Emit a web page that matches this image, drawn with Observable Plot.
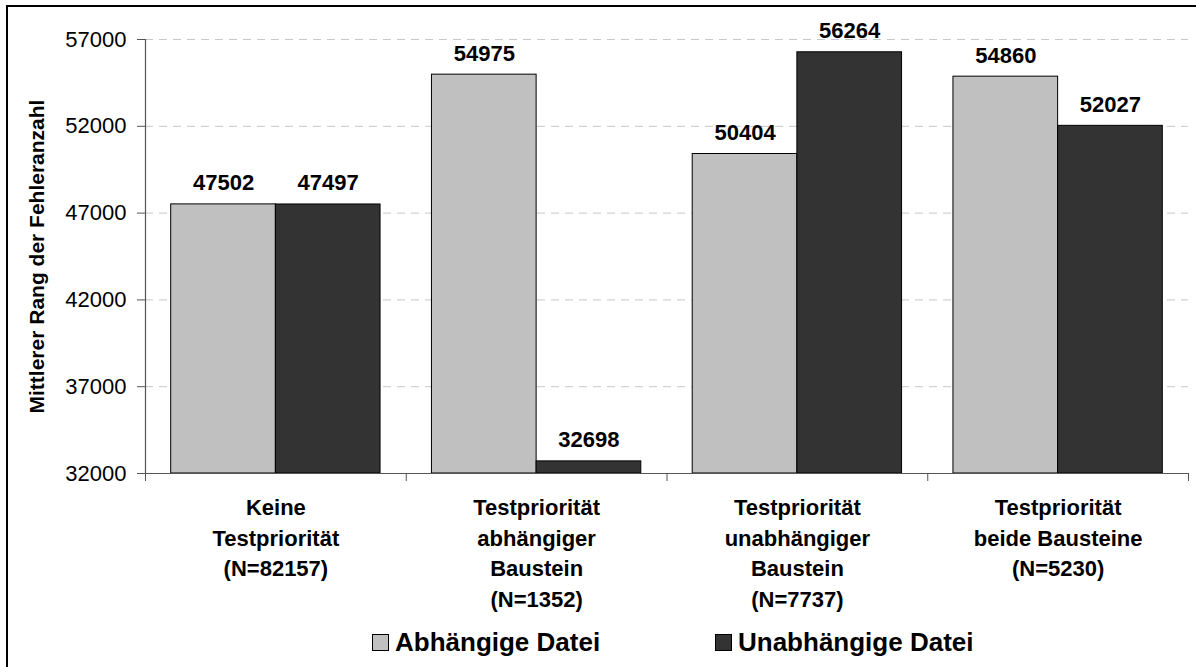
<!DOCTYPE html>
<html>
<head>
<meta charset="utf-8">
<script src="https://cdn.jsdelivr.net/npm/d3@7"></script>
<script src="https://cdn.jsdelivr.net/npm/@observablehq/plot@0.6"></script>
<style>
  html, body { margin: 0; padding: 0; background: #fff; width: 1196px; height: 667px; overflow: hidden; }
  body { position: relative; font-family: "Liberation Sans", Arial, sans-serif; }
  #chart { position: absolute; left: 0; top: 0; }
  #frame { position: absolute; left: 6px; top: 5px; width: 1220px; height: 720px; border: 2px solid #000; box-sizing: border-box; pointer-events: none; }
  #legend { position: absolute; left: 0; top: 622px; width: 1196px; height: 40px; font-weight: bold; font-size: 26px; color: #000; }
  #legend .item { position: absolute; top: 0; display: flex; align-items: center; height: 40px; white-space: nowrap; }
  #legend .sw { width: 17px; height: 17px; border: 1px solid #000; margin-right: 6px; box-sizing: border-box; }
</style>
</head>
<body>
<div id="chart"></div>
<div id="legend"></div>
<div id="frame"></div>
<script>
// ---- data ----
const categories = [
  "Keine\nTestpriorität\n(N=82157)",
  "Testpriorität\nabhängiger\nBaustein\n(N=1352)",
  "Testpriorität\nunabhängiger\nBaustein\n(N=7737)",
  "Testpriorität\nbeide Bausteine\n(N=5230)"
];
const seriesNames = ["Abhängige Datei", "Unabhängige Datei"];
const abhaengigeDatei = [47502, 54975, 50404, 54860];
const unabhaengigeDatei = [47497, 32698, 56264, 52027];
const yTicks = [32000, 37000, 42000, 47000, 52000, 57000];
const yTitle = ["Mittlerer Rang der Fehleranzahl"];
const seriesColors = ["#c0c0c0", "#333333"];

// ---- build table ----
const rows = [];
categories.forEach((c, i) => {
  rows.push({cat: i, s: 0, value: abhaengigeDatei[i]});
  rows.push({cat: i, s: 1, value: unabhaengigeDatei[i]});
});
const r0 = rows.filter(d => d.s === 0);
const r1 = rows.filter(d => d.s === 1);
const catLabels = categories.map((c, i) => ({cat: i, label: c}));

const inset = 25.7;
const yMin = yTicks[0];

const chart = Plot.plot({
  width: 1196,
  height: 625,
  marginLeft: 145,
  marginRight: 8,
  marginTop: 39,
  marginBottom: 152,
  style: {fontFamily: '"Liberation Sans", Arial, sans-serif', background: "transparent"},
  x: {domain: [0, categories.length], axis: null},
  y: {domain: [yTicks[0], yTicks[yTicks.length - 1]], axis: null},
  marks: [
    Plot.gridY(yTicks.slice(1), {stroke: "#c8c8c8", strokeOpacity: 1, strokeDasharray: "8,6"}),
    Plot.rectY(r0, {x1: d => d.cat, x2: d => d.cat + 0.5, y1: yMin, y2: "value", fill: seriesColors[0], stroke: "#000", strokeWidth: 1, insetLeft: inset}),
    Plot.rectY(r1, {x1: d => d.cat + 0.5, x2: d => d.cat + 1, y1: yMin, y2: "value", fill: seriesColors[1], stroke: "#000", strokeWidth: 1, insetRight: inset}),
    Plot.text(r0, {x: d => d.cat + 0.25, y: "value", text: d => String(d.value), dx: inset / 2, dy: -14, lineAnchor: "bottom", fontSize: 22, fontWeight: "bold", fill: "#000"}),
    Plot.text(r1, {x: d => d.cat + 0.75, y: "value", text: d => String(d.value), dx: -inset / 2, dy: -14, lineAnchor: "bottom", fontSize: 22, fontWeight: "bold", fill: "#000"}),
    Plot.ruleX([0], {y1: yTicks[0], y2: yTicks[yTicks.length - 1], stroke: "#555", strokeWidth: 1.2}),
    Plot.ruleY([yMin], {stroke: "#555", strokeWidth: 1.2}),
    Plot.axisY({ticks: yTicks, tickSize: 8, tickPadding: 11, fontSize: 22, label: null, stroke: "#555", color: "#000", tickFormat: d => String(d)}),
    Plot.axisX({ticks: d3.range(categories.length + 1), tickSize: 8, tickFormat: () => "", label: null, stroke: "#555"}),
    Plot.text(catLabels, {x: d => d.cat + 0.5, y: yMin, text: "label", lineAnchor: "top", dy: 20, lineHeight: 30.5 / 22, fontSize: 22, fontWeight: "bold", fill: "#000"}),
    Plot.text(yTitle, {frameAnchor: "left", textAnchor: "middle", dx: -108, rotate: -90, fontSize: 21, fontWeight: "bold", fill: "#000"})
  ]
});
document.getElementById("chart").appendChild(chart);

// ---- legend ----
const legend = document.getElementById("legend");
const legendLeft = [372, 715];
seriesNames.forEach((name, i) => {
  const item = document.createElement("div");
  item.className = "item";
  item.style.left = legendLeft[i] + "px";
  const sw = document.createElement("span");
  sw.className = "sw";
  sw.style.background = seriesColors[i];
  const tx = document.createElement("span");
  tx.textContent = name;
  item.appendChild(sw);
  item.appendChild(tx);
  legend.appendChild(item);
});
</script>
</body>
</html>
